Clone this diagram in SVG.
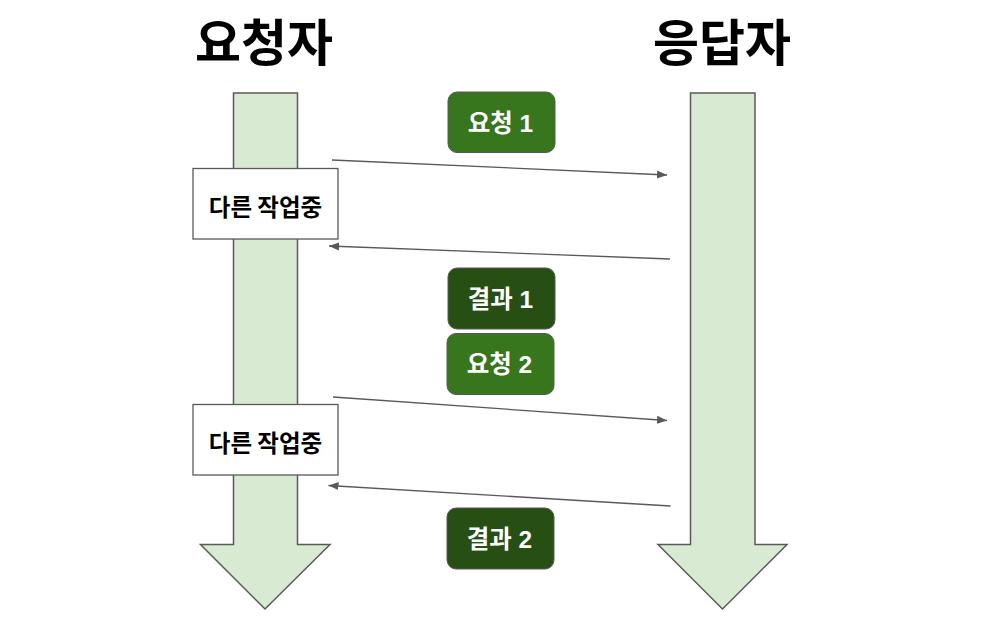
<svg xmlns="http://www.w3.org/2000/svg" width="1000" height="640" viewBox="0 0 1000 640">
<defs>
<style>
.title{font-family:"Noto Sans CJK KR","Noto Sans",sans-serif;font-weight:bold;font-size:50px;fill:#000;text-anchor:middle}
.life{fill:#d9ead3;stroke:#595959;stroke-width:1.5}
.box{fill:#fff;stroke:#595959;stroke-width:1.3}
.btxt{font-family:"Noto Sans CJK KR","Noto Sans",sans-serif;font-weight:bold;font-size:23.5px;fill:#000;text-anchor:middle}
.req{fill:#38761d;stroke:#595959;stroke-width:1}
.res{fill:#274e13;stroke:#595959;stroke-width:1}
.ptxt{font-family:"Liberation Sans","Noto Sans CJK KR",sans-serif;font-weight:bold;font-size:24.5px;fill:#fff;text-anchor:middle}
.conn{stroke:#595959;stroke-width:1.3;fill:none;marker-end:url(#ah)}
</style>
<marker id="ah" viewBox="0 0 10 10" refX="10" refY="5" markerWidth="10" markerHeight="10" markerUnits="userSpaceOnUse" orient="auto">
<path d="M0,1 L10,5 L0,9 Z" fill="#595959"/>
</marker>
</defs>
<g id="requester">
<text class="title" x="264" y="61">요청자</text>
<path class="life" d="M233.5,93 H297.5 V544.5 H330 L265,609 L200.5,544.5 H233.5 Z"/>
</g>
<g id="responder">
<text class="title" x="722" y="61">응답자</text>
<path class="life" d="M690.5,93 H755 V544.5 H787 L722.5,609 L658,544.5 H690.5 Z"/>
</g>
<g id="connectors">
<line class="conn" x1="332" y1="160" x2="667" y2="175"/>
<line class="conn" x1="670" y1="259" x2="329" y2="246"/>
<line class="conn" x1="333" y1="397" x2="667" y2="420.5"/>
<line class="conn" x1="670.5" y1="506" x2="328.5" y2="485.5"/>
</g>
<g id="work1">
<rect class="box" x="193" y="168.5" width="145" height="70.5"/>
<text class="btxt" x="265.5" y="215.5">다른 작업중</text>
</g>
<g id="work2">
<rect class="box" x="193" y="404.5" width="145" height="70.5"/>
<text class="btxt" x="265.5" y="451.5">다른 작업중</text>
</g>
<g id="req1">
<rect class="req" x="448" y="92" width="107" height="60.5" rx="9"/>
<text class="ptxt" x="500.5" y="131.5">요청 1</text>
</g>
<g id="res1">
<rect class="res" x="448" y="268" width="107" height="61" rx="9"/>
<text class="ptxt" x="500.5" y="307.5">결과 1</text>
</g>
<g id="req2">
<rect class="req" x="447" y="333.5" width="107" height="61" rx="9"/>
<text class="ptxt" x="499.5" y="373">요청 2</text>
</g>
<g id="res2">
<rect class="res" x="447" y="508" width="107" height="61" rx="9"/>
<text class="ptxt" x="499.5" y="547.5">결과 2</text>
</g>
</svg>
